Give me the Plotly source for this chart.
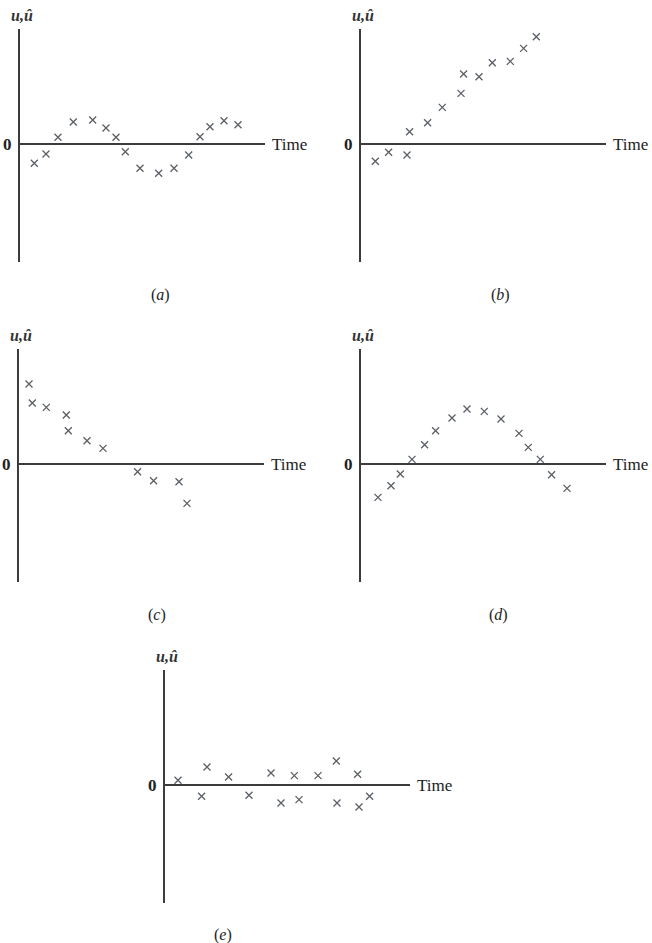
import plotly.graph_objects as go

# Residual patterns over time, one list pair per panel
time_a = [1.43, 2.6, 3.8, 5.33, 7.27, 8.6, 9.6, 10.53, 12.0, 13.87, 15.4, 16.87, 18.0, 19.0, 20.4, 21.8]
resid_a = [-1.93, -1.0, 0.67, 2.2, 2.4, 1.6, 0.67, -0.77, -2.43, -2.93, -2.43, -1.1, 0.73, 1.73, 2.33, 1.93]

time_b = [1.43, 2.76, 4.6, 4.86, 6.66, 8.13, 10.0, 10.26, 11.8, 13.13, 14.93, 16.26, 17.53]
resid_b = [-1.73, -0.83, -1.1, 1.23, 2.13, 3.66, 5.06, 7.0, 6.73, 8.13, 8.26, 9.56, 10.73]

time_c = [1.0, 1.33, 2.73, 4.73, 4.93, 6.8, 8.4, 11.86, 13.46, 16.0, 16.8]
resid_c = [8.0, 6.1, 5.66, 4.9, 3.33, 2.33, 1.56, -0.77, -1.67, -1.77, -3.94]

time_d = [1.7, 3.0, 3.93, 5.1, 6.36, 7.46, 9.1, 10.6, 12.33, 14.0, 15.8, 16.73, 17.93, 19.06, 20.6]
resid_d = [-3.34, -2.17, -1.0, 0.46, 1.93, 3.33, 4.6, 5.5, 5.26, 4.5, 3.06, 1.66, 0.46, -1.07, -2.44]

time_e = [1.3, 3.66, 4.2, 6.36, 8.4, 10.6, 11.6, 12.93, 13.4, 15.3, 17.13, 17.2, 19.26, 19.4, 20.46]
resid_e = [0.47, -1.13, 1.8, 0.8, -1.03, 1.2, -1.8, 0.94, -1.46, 0.94, 2.4, -1.8, 1.07, -2.2, -1.13]

panel_labels = ["(a)", "(b)", "(c)", "(d)", "(e)"]
y_title = "u,û"
x_title = "Time"

W, H = 652, 943
AXIS_COLOR = "#3c3c3c"
MARK_COLOR = "#5a5f66"
SERIF = "Liberation Serif, Times New Roman, serif"

# pixel boxes (left, top) of each panel's axes area; all share one size
AX_W, AX_H = 245, 233
boxes = [(20, 29), (361, 29), (19, 349), (361, 349), (165, 670)]
caption_y = [295, 295, 615, 615, 935]
caption_dx = [140, 139, 138, 137, 58]

series = [(time_a, resid_a), (time_b, resid_b), (time_c, resid_c),
          (time_d, resid_d), (time_e, resid_e)]

X_RANGE = [0, 24.5]
Y_RANGE = [-11.8, 11.5]

fig = go.Figure()
annotations = []
for i, ((tx, ry), (left, top)) in enumerate(zip(series, boxes)):
    n = "" if i == 0 else str(i + 1)
    xa, ya = "x" + n, "y" + n
    fig.add_trace(go.Scatter(
        x=tx, y=ry, mode="markers", xaxis=xa, yaxis=ya, showlegend=False,
        marker=dict(symbol="x-thin", size=7, color=MARK_COLOR,
                    line=dict(width=1.3, color=MARK_COLOR)),
        hoverinfo="skip",
    ))
    xdom = [left / W, (left + AX_W) / W]
    ydom = [1 - (top + AX_H) / H, 1 - top / H]
    fig.layout["xaxis" + n] = dict(
        domain=xdom, range=X_RANGE, anchor=ya, showgrid=False,
        zeroline=False, showline=False, showticklabels=False, ticks="",
    )
    fig.layout["yaxis" + n] = dict(
        domain=ydom, range=Y_RANGE, anchor=xa, showgrid=False,
        zeroline=True, zerolinecolor=AXIS_COLOR, zerolinewidth=2,
        showline=True, linecolor=AXIS_COLOR, linewidth=2,
        tickmode="array", tickvals=[0], ticktext=["0"], ticks="",
        ticklabelstandoff=3,
        tickfont=dict(family=SERIF, size=17, color="#222", weight="bold"),
    )
    # axis titles
    annotations.append(dict(
        text="<b><i>" + y_title + "</i></b>", xref=xa + " domain", yref=ya + " domain",
        x=0, y=1, xanchor="center", yanchor="bottom", yshift=3, xshift=2,
        showarrow=False, font=dict(family=SERIF, size=16, color="#333"),
    ))
    annotations.append(dict(
        text=x_title, xref=xa + " domain", yref=ya,
        x=1, y=0, xanchor="left", yanchor="middle", xshift=5,
        showarrow=False, font=dict(family=SERIF, size=17, color="#222"),
    ))
    # panel caption
    lab = panel_labels[i]
    annotations.append(dict(
        text="(<i>" + lab[1] + "</i>)", xref="paper", yref="paper",
        x=(left + caption_dx[i]) / W, y=1 - caption_y[i] / H,
        xanchor="center", yanchor="middle",
        showarrow=False, font=dict(family=SERIF, size=16, color="#222"),
    ))

fig.update_layout(
    width=W, height=H, margin=dict(l=0, r=0, t=0, b=0),
    paper_bgcolor="white", plot_bgcolor="white",
    annotations=annotations,
)

fig.write_html("out.html")
